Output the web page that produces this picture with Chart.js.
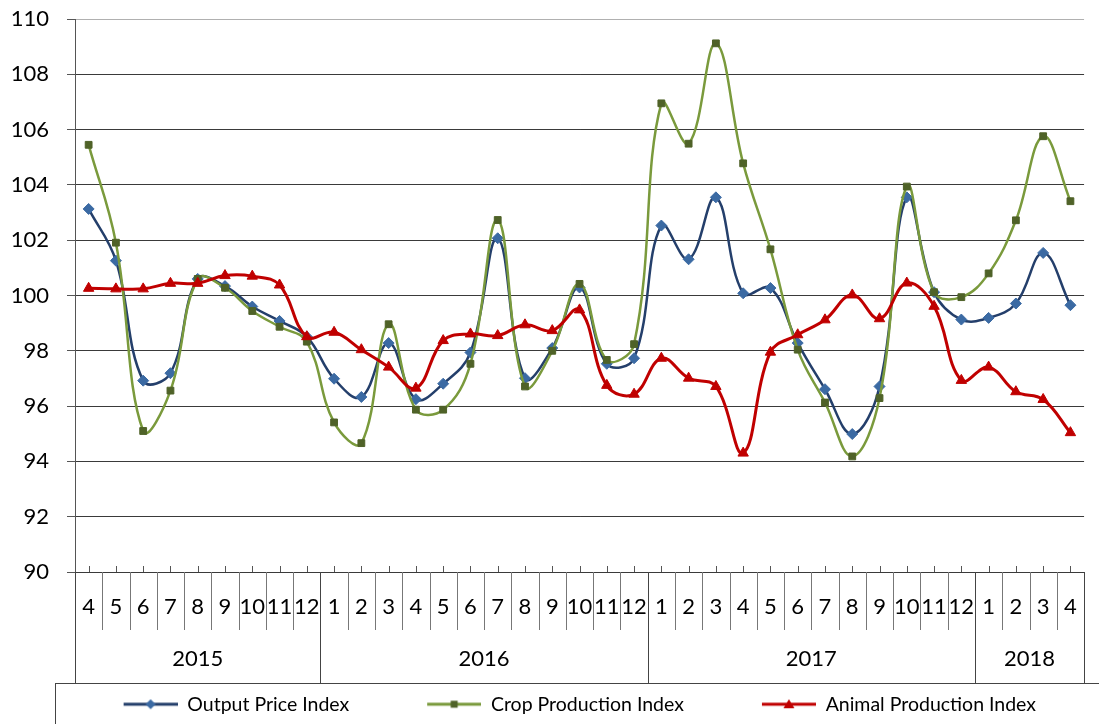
<!DOCTYPE html>
<html>
<head>
<meta charset="utf-8">
<script src="https://cdn.jsdelivr.net/npm/chart.js@4/dist/chart.umd.min.js"></script>
<style>
  html, body { margin: 0; padding: 0; background: #fff; }
  #wrap { width: 1099px; height: 724px; }
</style>
</head>
<body>
<div id="wrap"><canvas id="canvas"></canvas></div>
<script>
const months = [
  "4", "5", "6", "7", "8", "9", "10", "11", "12",
  "1", "2", "3", "4", "5", "6", "7", "8", "9", "10", "11", "12",
  "1", "2", "3", "4", "5", "6", "7", "8", "9", "10", "11", "12",
  "1", "2", "3", "4",
];
const years = ["2015", "2016", "2017", "2018"];
const monthsPerYear = [9, 12, 12, 4];

const outputPrice = [
  103.13, 101.26, 96.92, 97.19, 100.6, 100.34, 99.6, 99.08, 98.51,
  96.99, 96.33, 98.28, 96.25, 96.81, 97.94, 102.07, 97.01, 98.1, 100.29, 97.53, 97.73,
  102.53, 101.31, 103.55, 100.08, 100.27, 98.28, 96.61, 94.99, 96.71, 103.55, 100.12, 99.13,
  99.19, 99.71, 101.54, 99.65,
];
const cropProduction = [
  105.45, 101.91, 95.1, 96.56, 100.6, 100.28, 99.44, 98.87, 98.33,
  95.41, 94.66, 98.96, 95.87, 95.87, 97.53, 102.73, 96.71, 98.0, 100.42, 97.67, 98.24,
  106.95, 105.49, 109.12, 104.78, 101.67, 98.04, 96.13, 94.18, 96.29, 103.94, 100.12, 99.94,
  100.8, 102.72, 105.76, 103.41,
];
const animalProduction = [
  100.26, 100.24, 100.24, 100.44, 100.44, 100.72, 100.7, 100.38, 98.51,
  98.67, 98.04, 97.41, 96.65, 98.37, 98.61, 98.55, 98.94, 98.73, 99.48, 96.75, 96.43,
  97.73, 97.01, 96.71, 94.3, 97.95, 98.58, 99.12, 100.02, 99.16, 100.45, 99.61, 96.93,
  97.41, 96.52, 96.24, 95.04,
];

Chart.defaults.font.family = "Lato";
Chart.defaults.color = "#000";

// legend icon: a short line with the series marker in the middle
const ICON_W = 83;
function legendIcon(lineColor, markColor, shape) {
  const c = document.createElement("canvas");
  c.width = ICON_W;
  c.height = 14;
  const g = c.getContext("2d");
  const x0 = ICON_W - 54, x1 = ICON_W, cx = (x0 + x1) / 2, cy = 7;
  g.strokeStyle = lineColor;
  g.lineWidth = 3;
  g.beginPath();
  g.moveTo(x0, cy);
  g.lineTo(x1, cy);
  g.stroke();
  g.fillStyle = markColor;
  g.beginPath();
  if (shape === "diamond") {
    g.moveTo(cx, cy - 5); g.lineTo(cx + 5, cy); g.lineTo(cx, cy + 5); g.lineTo(cx - 5, cy);
  } else if (shape === "square") {
    g.rect(cx - 3.5, cy - 3.5, 7, 7);
  } else {
    g.moveTo(cx, cy - 5); g.lineTo(cx + 5.5, cy + 4); g.lineTo(cx - 5.5, cy + 4);
  }
  g.closePath();
  g.fill();
  return c;
}

const icons = [
  legendIcon("#243f6b", "#3b6aa3", "diamond"),
  legendIcon("#7a9a3c", "#4f6228", "square"),
  legendIcon("#c00000", "#c00000", "triangle"),
];

const axisDecor = {
  id: "axisDecor",
  afterDraw(chart) {
    const { ctx, chartArea, scales: { x } } = chart;
    const step = x.getPixelForValue(1) - x.getPixelForValue(0);
    const bottom = chartArea.bottom;
    const seg = (x1, y1, x2, y2, color) => {
      ctx.strokeStyle = color;
      ctx.beginPath();
      ctx.moveTo(x1, y1);
      ctx.lineTo(x2, y2);
      ctx.stroke();
    };
    ctx.save();
    ctx.lineWidth = 1;

    // little ticks on the axis at each month
    months.forEach((m, i) => {
      const px = Math.round(x.getPixelForValue(i)) + 0.5;
      seg(px, bottom - 6, px, bottom, "#555");
    });

    // month separators and year separators
    const yearStart = [0];
    monthsPerYear.forEach((n, k) => yearStart.push(yearStart[k] + n));
    for (let i = 0; i <= months.length; i++) {
      const px = Math.round(x.getPixelForValue(i) - step / 2) + 0.5;
      const isYear = yearStart.includes(i);
      seg(px, bottom, px, bottom + (isYear ? 111 : 58), isYear ? "#444" : "#777");
    }

    // year labels
    ctx.fillStyle = "#000";
    ctx.font = "22px Lato";
    ctx.textAlign = "center";
    ctx.textBaseline = "middle";
    years.forEach((y, k) => {
      const a = x.getPixelForValue(yearStart[k]) - step / 2;
      const b = x.getPixelForValue(yearStart[k + 1] - 1) + step / 2;
      ctx.fillText(y, (a + b) / 2, bottom + 87);
    });

    // legend frame
    const ly = bottom + 111.5;
    seg(55, ly, chart.width, ly, "#444");
    seg(55.5, ly, 55.5, chart.height, "#444");
    ctx.restore();
  },
};

const ctx = document.getElementById("canvas");

const chart = new Chart(ctx, {
  type: "line",
  data: {
    labels: months,
    datasets: [
      {
        label: "Output Price Index",
        data: outputPrice,
        borderColor: "#243f6b",
        borderWidth: 2.5,
        pointStyle: "rectRot",
        pointRadius: 5.5,
        pointBackgroundColor: "#3b6aa3",
        pointBorderColor: "#3b6aa3",
        pointBorderWidth: 1,
        tension: 0.4,
        order: 2,
      },
      {
        label: "Crop Production Index",
        data: cropProduction,
        borderColor: "#7a9a3c",
        borderWidth: 2.5,
        pointStyle: "rect",
        pointRadius: 4.8,
        pointBackgroundColor: "#4f6228",
        pointBorderColor: "#4f6228",
        pointBorderWidth: 1,
        tension: 0.4,
        order: 1,
      },
      {
        label: "Animal Production Index",
        data: animalProduction,
        borderColor: "#c00000",
        borderWidth: 3,
        pointStyle: "triangle",
        pointRadius: 6,
        pointBackgroundColor: "#c00000",
        pointBorderColor: "#c00000",
        pointBorderWidth: 1,
        tension: 0.4,
        order: 0,
      },
    ],
  },
  options: {
    responsive: true,
    maintainAspectRatio: false,
    animation: false,
    layout: {
      padding: { top: 19, right: 14, left: 0, bottom: 0 },
    },
    scales: {
      x: {
        offset: true,
        grid: { display: false, drawTicks: false },
        border: { display: false },
        ticks: {
          autoSkip: false,
          maxRotation: 0,
          minRotation: 0,
          padding: 22,
          font: { size: 22 },
        },
        afterFit: (scale) => {
          scale.height = 152 - scale.chart.legend.height;
        },
      },
      y: {
        min: 90,
        max: 110,
        ticks: { stepSize: 2, padding: 18, font: { size: 22 } },
        grid: {
          color: (c) => (c.tick && c.tick.value === 110 ? "#b0b0b0" : "#3a3a3a"),
          tickLength: 8,
          tickColor: "#555",
        },
        border: { color: "#555" },
        afterFit: (scale) => {
          scale.width = 75;
          scale.paddingTop = 0;
          scale.paddingBottom = 0;
        },
      },
    },
    plugins: {
      tooltip: { enabled: false },
      legend: {
        position: "bottom",
        align: "end",
        labels: {
          usePointStyle: true,
          pointStyleWidth: ICON_W,
          padding: 49,
          font: { size: 19.5, lineHeight: 1.3 },
          color: "#000",
          sort: (a, b) => a.datasetIndex - b.datasetIndex,
          generateLabels: (chart) => {
            const items = Chart.defaults.plugins.legend.labels.generateLabels(chart);
            items.forEach((it) => {
              it.pointStyle = icons[it.datasetIndex];
            });
            return items;
          },
        },
      },
    },
  },
  plugins: [axisDecor],
});
</script>
</body>
</html>
